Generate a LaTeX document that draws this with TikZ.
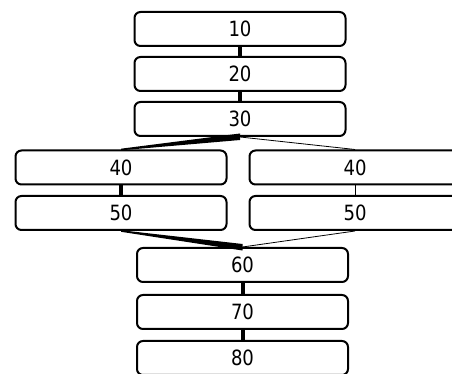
\documentclass[tikz,border=0pt]{standalone}
\usepackage{fontspec}
\setmainfont{DejaVu Sans}[FakeStretch=0.86]
\usepackage{tikz}
\usetikzlibrary{positioning}
\definecolor{kutuCizgi}{HTML}{000000}

\begin{document}
\begin{tikzpicture}[x=1pt,y=1pt,
  kutu/.style={draw=kutuCizgi,line width=2pt,rounded corners=6pt,fill=white,
    minimum width=211pt,minimum height=34pt,inner sep=0pt,font=\fontsize{21}{23}\selectfont},
  kalin/.style={line width=4pt},
  ince/.style={line width=0.8pt}]
\useasboundingbox (0,0) rectangle (452,374);
% orta sutun
\node[kutu] (n10) at (240,345) {10};
\node[kutu] (n20) at (240,300) {20};
\node[kutu] (n30) at (240,255) {30};
% iki kol
\node[kutu] (n40a) at (121,206.5) {40};
\node[kutu] (n40b) at (355,206.5) {40};
\node[kutu] (n50a) at (121,161) {50};
\node[kutu] (n50b) at (355,161) {50};
% alt sutun
\node[kutu] (n60) at (242.5,109) {60};
\node[kutu] (n70) at (242.5,62) {70};
\node[kutu] (n80) at (242.5,16) {80};
% baglantilar
\draw[kalin] (n10.south)--(n20.north); \draw[kalin] (n20.south)--(n30.north);
\fill ([yshift=0.8pt]n40a.north)--([yshift=3.5pt]n30.south)--([yshift=-3pt]n30.south)--([yshift=-0.8pt]n40a.north)--cycle;
\draw[ince] (n30.south)--(n40b.north);
\draw[kalin] (n40a.south)--(n50a.north); \draw[ince] (n40b.south)--(n50b.north);
\fill ([yshift=0.8pt]n50a.south)--([yshift=3pt]n60.north)--([yshift=-3.5pt]n60.north)--([yshift=-0.8pt]n50a.south)--cycle;
\draw[ince] (n50b.south)--(n60.north);
\draw[kalin] (n60.south)--(n70.north); \draw[kalin] (n70.south)--(n80.north);
\end{tikzpicture}
\end{document}
